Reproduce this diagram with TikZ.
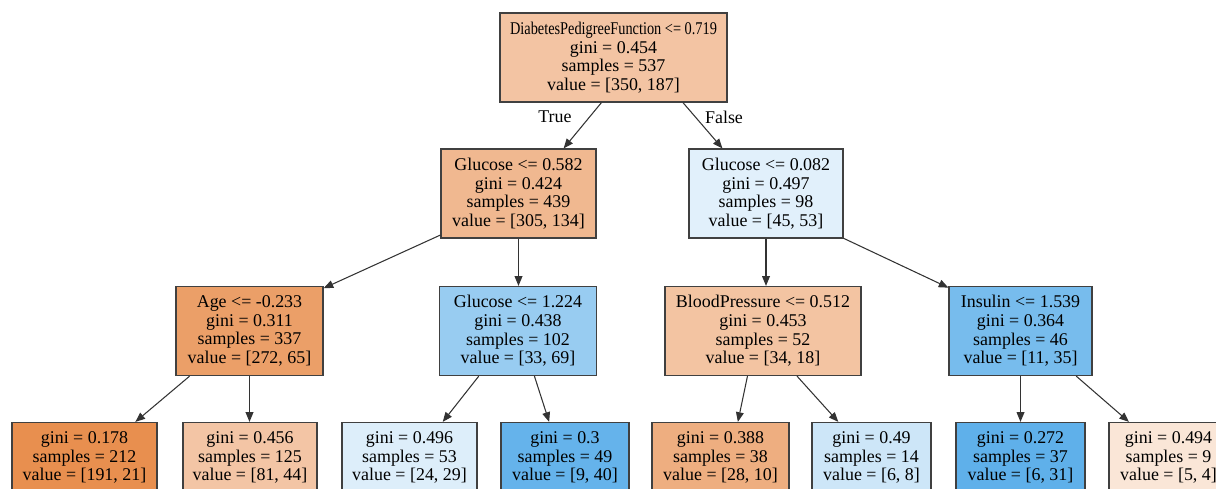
\documentclass[tikz,border=0pt]{standalone}
\usepackage{fontspec}
\setmainfont{Liberation Serif}
\usetikzlibrary{arrows.meta}

\definecolor{cA}{RGB}{243,196,163}
\definecolor{cB}{RGB}{240,184,144}
\definecolor{cC}{RGB}{225,240,251}
\definecolor{cD}{RGB}{235,159,104}
\definecolor{cE}{RGB}{152,204,241}
\definecolor{cF}{RGB}{243,196,162}
\definecolor{cG}{RGB}{119,188,237}
\definecolor{cL1}{RGB}{232,143,79}
\definecolor{cL2}{RGB}{243,197,165}
\definecolor{cL3}{RGB}{221,238,250}
\definecolor{cL4}{RGB}{101,179,235}
\definecolor{cL5}{RGB}{238,174,128}
\definecolor{cL6}{RGB}{205,230,248}
\definecolor{cL7}{RGB}{95,176,234}
\definecolor{cL8}{RGB}{250,230,215}

\tikzset{
	split/.style={draw=black!75, line width=0.7pt, inner sep=0pt, align=center, minimum height=89*0.02cm},
	leaf/.style={split, minimum height=70*0.02cm},
	wd/.style={minimum width=#1*0.02cm},
	edge/.style={draw=black!80, line width=0.6pt, -{Triangle[length=5.5pt,width=4.4pt]}}
}

\begin{document}
\begin{tikzpicture}[x=0.02cm, y=-0.02cm, font=\fontsize{10.2}{10.6}\selectfont]
	\useasboundingbox (0,0) rectangle (1216,488);
	\clip (0,0) rectangle (1216,488);
	% splits
	\node[split, fill=cA, wd=227] (root) at (613.5,57.5) {\scalebox{0.8}[1]{DiabetesPedigreeFunction <= 0.719}\\gini = 0.454\\samples = 537\\value = [350, 187]};
	\node[split, fill=cB, wd=155] (g1) at (518.5,193.5) {Glucose <= 0.582\\gini = 0.424\\samples = 439\\value = [305, 134]};
	\node[split, fill=cC, wd=154] (g2) at (766,193.5) {Glucose <= 0.082\\gini = 0.497\\samples = 98\\value = [45, 53]};
	\node[split, fill=cD, wd=147] (age) at (249.5,331) {Age <= -0.233\\gini = 0.311\\samples = 337\\value = [272, 65]};
	\node[split, fill=cE, wd=157] (g3) at (518,331) {Glucose <= 1.224\\gini = 0.438\\samples = 102\\value = [33, 69]};
	\node[split, fill=cF, wd=196] (bp) at (763,331) {BloodPressure <= 0.512\\gini = 0.453\\samples = 52\\value = [34, 18]};
	\node[split, fill=cG, wd=143] (ins) at (1020.5,331) {Insulin <= 1.539\\gini = 0.364\\samples = 46\\value = [11, 35]};
	% leaves
	\node[leaf, fill=cL1, wd=145] (l1) at (84.5,457.5) {gini = 0.178\\samples = 212\\value = [191, 21]};
	\node[leaf, fill=cL2, wd=134] (l2) at (250,457.5) {gini = 0.456\\samples = 125\\value = [81, 44]};
	\node[leaf, fill=cL3, wd=135] (l3) at (409.5,457.5) {gini = 0.496\\samples = 53\\value = [24, 29]};
	\node[leaf, fill=cL4, wd=128] (l4) at (565,457.5) {gini = 0.3\\samples = 49\\value = [9, 40]};
	\node[leaf, fill=cL5, wd=137] (l5) at (720.5,457.5) {gini = 0.388\\samples = 38\\value = [28, 10]};
	\node[leaf, fill=cL6, wd=119] (l6) at (871.5,457.5) {gini = 0.49\\samples = 14\\value = [6, 8]};
	\node[leaf, fill=cL7, wd=129] (l7) at (1020.5,457.5) {gini = 0.272\\samples = 37\\value = [6, 31]};
	\node[leaf, fill=cL8, wd=119] (l8) at (1168.5,457.5) {gini = 0.494\\samples = 9\\value = [5, 4]};
	% edges
	\draw[edge] (root.255.5) -- (g1.45.7);
	\draw[edge] (root.327.4) -- (g2.134);
	\node (yes) at (555,117) {True};
	\node (no) at (724,117) {False};
	\draw[edge] (g1.208.2) -- (age.30.3);
	\draw[edge] (g1.south) -- (g1.south |- g3.north);
	\draw[edge] (g2.south) -- (g2.south |- bp.north);
	\draw[edge] (g2.330.5) -- (ins.149);
	\draw[edge] (age.217.1) -- (l1.35.8);
	\draw[edge] (age.south) -- (age.south |- l2.north);
	\draw[edge] (g3.229.8) -- (l3.47.1);
	\draw[edge] (g3.290.7) -- (l4.114.6);
	\draw[edge] (bp.251.6) -- (l5.64.8);
	\draw[edge] (bp.307.1) -- (l6.133.7);
	\draw[edge] (ins.south) -- (ins.south |- l7.north);
	\draw[edge] (ins.321) -- (l8.138);
\end{tikzpicture}
\end{document}
